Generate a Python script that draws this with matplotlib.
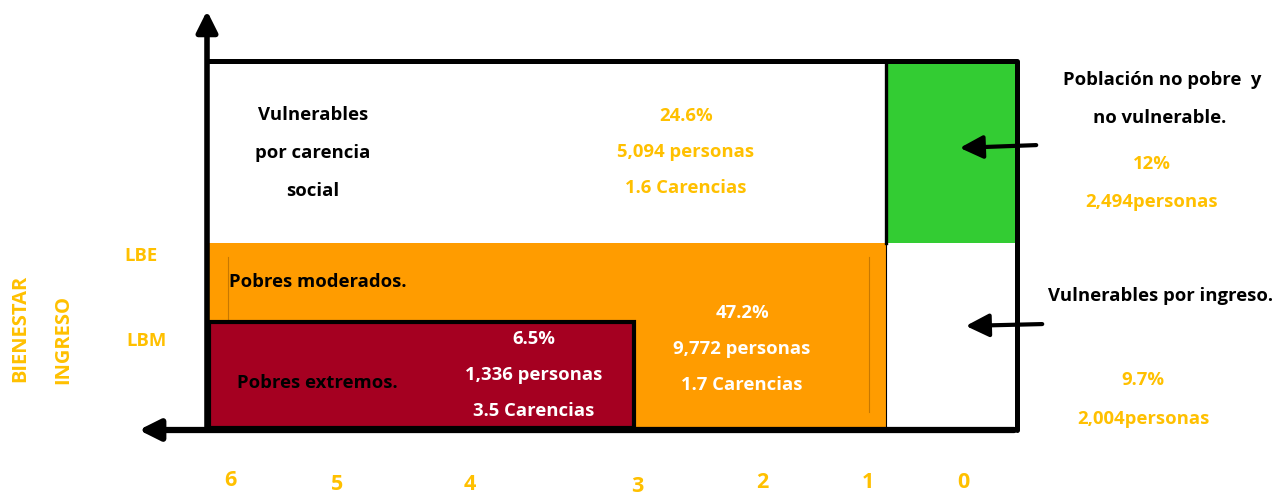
import matplotlib
matplotlib.use("Agg")
import matplotlib.pyplot as plt
from matplotlib.patches import Rectangle, FancyArrowPatch

# ---------------- data ----------------
x_tick_labels = ["6", "5", "4", "3", "2", "1", "0"]
y_line_labels = ["LBE", "LBM"]
axis_titles = ["BIENESTAR", "INGRESO"]

group_names = ["Vulnerables\npor carencia\nsocial", "Pobres moderados.", "Pobres extremos.",
               "Población no pobre  y\nno vulnerable.", "Vulnerables por ingreso."]
group_pct = ["24.6%", "47.2%", "6.5%", "12%", "9.7%"]
group_persons = ["5,094 personas", "9,772 personas", "1,336 personas", "2,494personas", "2,004personas"]
group_carencias = ["1.6 Carencias", "1.7 Carencias", "3.5 Carencias", None, None]

# ---------------- style ----------------
GOLD = "#FFC000"
ORANGE = "#FF9C00"
RED = "#A50021"
GREEN = "#33CC33"
FONT = "Open Sans"
FS = 13.3

W, H = 1279, 496
fig = plt.figure(figsize=(W / 100, H / 100), dpi=100)
ax = fig.add_axes([0, 0, 1, 1])
ax.set_xlim(0, W)
ax.set_ylim(H, 0)
ax.axis("off")

def rect(x0, y0, x1, y1, fc, ec="none", lw=0, z=1):
    ax.add_patch(Rectangle((x0, y0), x1 - x0, y1 - y0, facecolor=fc, edgecolor=ec, linewidth=lw, zorder=z))

# regions
rect(207, 61, 886, 243, "white", z=1)
rect(207, 243, 886, 429, ORANGE, z=1)
rect(886, 61, 1017, 243, GREEN, z=1)
rect(886, 243, 1017, 429, "white", z=1)
# thin darker lines inside orange
ax.plot([228, 228], [257, 320], color="#C87800", lw=0.8, zorder=2)
ax.plot([869, 869], [257, 412], color="#C87800", lw=0.8, zorder=2)
# red box with black border
rect(209, 322, 634, 428, RED, ec="black", lw=3, z=3)

# outer frame
ax.plot([207, 1017, 1017], [61, 61, 430], color="black", lw=3.6, zorder=4, solid_capstyle="round")
ax.plot([886, 886], [61, 243], color="black", lw=2.4, zorder=4)
ax.plot([886, 886], [243, 429], color="black", lw=0.8, zorder=4)

# axes arrows
ax.add_patch(FancyArrowPatch((207, 432), (207, 8), arrowstyle="-|>,head_length=0.9,head_width=0.45",
                             mutation_scale=14, color="black", lw=4, zorder=5))
ax.add_patch(FancyArrowPatch((1017, 430), (136, 430), arrowstyle="-|>,head_length=0.9,head_width=0.45",
                             mutation_scale=14, color="black", lw=4.5, zorder=5))

# pointer arrows
ax.add_patch(FancyArrowPatch((1039, 145), (957, 148), arrowstyle="-|>,head_length=1.0,head_width=0.5",
                             mutation_scale=14, color="black", lw=3, zorder=5))
ax.add_patch(FancyArrowPatch((1045, 324), (963, 326), arrowstyle="-|>,head_length=1.0,head_width=0.5",
                             mutation_scale=14, color="black", lw=3, zorder=5))

def txt(x, y, s, color="black", size=FS, ha="center", **kw):
    ax.text(x, y, s, color=color, fontsize=size, ha=ha, va="center", family=FONT,
            fontweight="bold", zorder=6, **kw)

# Vulnerables por carencia social
for i, line in enumerate(group_names[0].split("\n")):
    txt(313, 115 + 38 * i, line)
txt(686, 116, group_pct[0], GOLD)
txt(686, 152, group_persons[0], GOLD)
txt(686, 188, group_carencias[0], GOLD)

# Pobres moderados
txt(229, 282, group_names[1], ha="left")
txt(742, 313, group_pct[1], "white")
txt(742, 349, group_persons[1], "white")
txt(742, 385, group_carencias[1], "white")

# Pobres extremos
txt(237, 383, group_names[2], ha="left")
txt(534, 339, group_pct[2], "white")
txt(534, 375, group_persons[2], "white")
txt(534, 411, group_carencias[2], "white")

# Población no pobre y no vulnerable
l1, l2 = group_names[3].split("\n")
txt(1162, 80, l1)
txt(1160, 118, l2)
txt(1152, 164, group_pct[3], GOLD)
txt(1152, 202, group_persons[3], GOLD)

# Vulnerables por ingreso
txt(1161, 296, group_names[4])
txt(1143, 380, group_pct[4], GOLD)
txt(1143, 419, group_persons[4], GOLD)

# line labels
txt(141, 256, y_line_labels[0], GOLD, size=13.3)
txt(146, 341, y_line_labels[1], GOLD, size=13.3)

# axis titles (rotated)
txt(20, 328, axis_titles[0], GOLD, size=14.5, rotation=90)
txt(63, 339, axis_titles[1], GOLD, size=14.5, rotation=90)

# x tick labels
tick_x = [230, 337, 470, 637, 762, 868, 963]
tick_y = [480, 485, 485, 486, 482, 482, 482]
for lab, xx, yy in zip(x_tick_labels, tick_x, tick_y):
    ax.text(xx, yy, lab, color=GOLD, fontsize=15.5, ha="center", va="center",
            family="Open Sans", fontweight="bold", zorder=6)

fig.savefig("out.png", dpi=100, facecolor="white")
